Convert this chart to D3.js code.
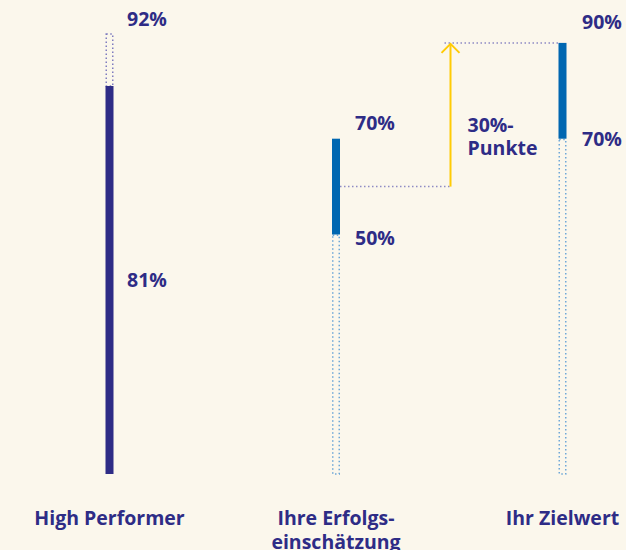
<!DOCTYPE html>
<html><head><meta charset="utf-8">
<script src="https://cdn.jsdelivr.net/npm/d3@7"></script>
<style>
html,body{margin:0;padding:0;background:#FBF7EC;}
svg{display:block;}
text{font-family:"Open Sans",Lato,sans-serif;font-weight:700;fill:#2E2C86;}
</style></head><body>
<svg id="c" width="626" height="550"></svg>
<script>
const categories = ["High Performer", "Ihre Erfolgs-\neinschätzung", "Ihr Zielwert"];
const rangeLow  = [81, 50, 70];   // unteres Ende des farbigen Bereichs
const rangeHigh = [81, 70, 90];   // oberes Ende
const maxValue  = [92, null, null]; // gepunkteter Bereich oben (High Performer)
const gapLabel  = ["30%-", "Punkte"];

const svg = d3.select("#c");
const x = d3.scalePoint().domain(categories).range([109.5, 562.5]);
const y = d3.scaleLinear().domain([0, 100]).range([474, -5]);
const W = 8;
const navy = "#2E2C86", blue = "#0067B1", yellow = "#FFCB05";

// dotted background columns
categories.forEach((c, i) => {
  const cx = x(c);
  let top, bot, col;
  if (i === 0) { top = y(maxValue[0]); bot = y(rangeHigh[0]); col = "#7F7CBF"; }
  else { top = y(rangeLow[i]); bot = y(0); col = "#6FA8D8"; }
  svg.append("rect").attr("x", cx - W/2 + 0.75).attr("y", top + 0.75)
    .attr("width", W - 1.5).attr("height", bot - top - 0.75)
    .attr("fill", "none").attr("stroke", col).attr("stroke-width", 1.5)
    .attr("stroke-dasharray", "1.5,2.5");
});

// solid bars
categories.forEach((c, i) => {
  const cx = x(c);
  const lo = i === 0 ? 0 : rangeLow[i];
  svg.append("rect").attr("x", cx - W/2).attr("y", y(rangeHigh[i]))
    .attr("width", W).attr("height", y(lo) - y(rangeHigh[i]))
    .attr("fill", i === 0 ? navy : blue);
});

// connector: midpoint of estimate -> arrow -> target max
const mid = (rangeLow[1] + rangeHigh[1]) / 2;
const ax = 450.5;
svg.append("line").attr("x1", x(categories[1]) + W/2).attr("x2", ax)
  .attr("y1", y(mid)).attr("y2", y(mid))
  .attr("stroke", "#8E8BC4").attr("stroke-width", 1.5).attr("stroke-dasharray", "1.5,2.5");
svg.append("line").attr("x1", ax - 6).attr("x2", x(categories[2]) - W/2)
  .attr("y1", y(rangeHigh[2])).attr("y2", y(rangeHigh[2]))
  .attr("stroke", "#8E8BC4").attr("stroke-width", 1.5).attr("stroke-dasharray", "1.5,2.5");
svg.append("line").attr("x1", ax).attr("x2", ax).attr("y1", y(mid)).attr("y2", y(rangeHigh[2]) + 1)
  .attr("stroke", yellow).attr("stroke-width", 2);
svg.append("path").attr("d", `M${ax-9},${y(rangeHigh[2])+10} L${ax},${y(rangeHigh[2])+1} L${ax+9},${y(rangeHigh[2])+10}`)
  .attr("fill", "none").attr("stroke", yellow).attr("stroke-width", 2);

// value labels
const fs = 19.5;
function lab(tx, ty, t) {
  svg.append("text").attr("x", tx).attr("y", ty).attr("dy", "0.36em")
    .attr("font-size", fs).text(t);
}
lab(x(categories[0]) + 17.5, y(maxValue[0]) - 14, maxValue[0] + "%");
lab(x(categories[0]) + 17.5, (y(rangeHigh[0]) + y(0)) / 2, rangeHigh[0] + "%");
lab(x(categories[1]) + 19, y(rangeHigh[1]) - 16, rangeHigh[1] + "%");
lab(x(categories[1]) + 19, y(rangeLow[1]) + 3, rangeLow[1] + "%");
lab(x(categories[2]) + 19.5, y(rangeHigh[2]) - 21, rangeHigh[2] + "%");
lab(x(categories[2]) + 19.5, y(rangeLow[2]), rangeLow[2] + "%");
lab(ax + 17, y(rangeHigh[1]) - 14, gapLabel[0]);
lab(ax + 17, y(rangeHigh[1]) + 9, gapLabel[1]);

// category labels
categories.forEach(c => {
  const lines = c.split("\n");
  const t = svg.append("text").attr("text-anchor", "middle").attr("font-size", 19.5);
  lines.forEach((l, k) => {
    t.append("tspan").attr("x", x(c)).attr("y", 518 + k * 24).attr("dy", "0.36em").text(l);
  });
});
</script>
</body></html>
